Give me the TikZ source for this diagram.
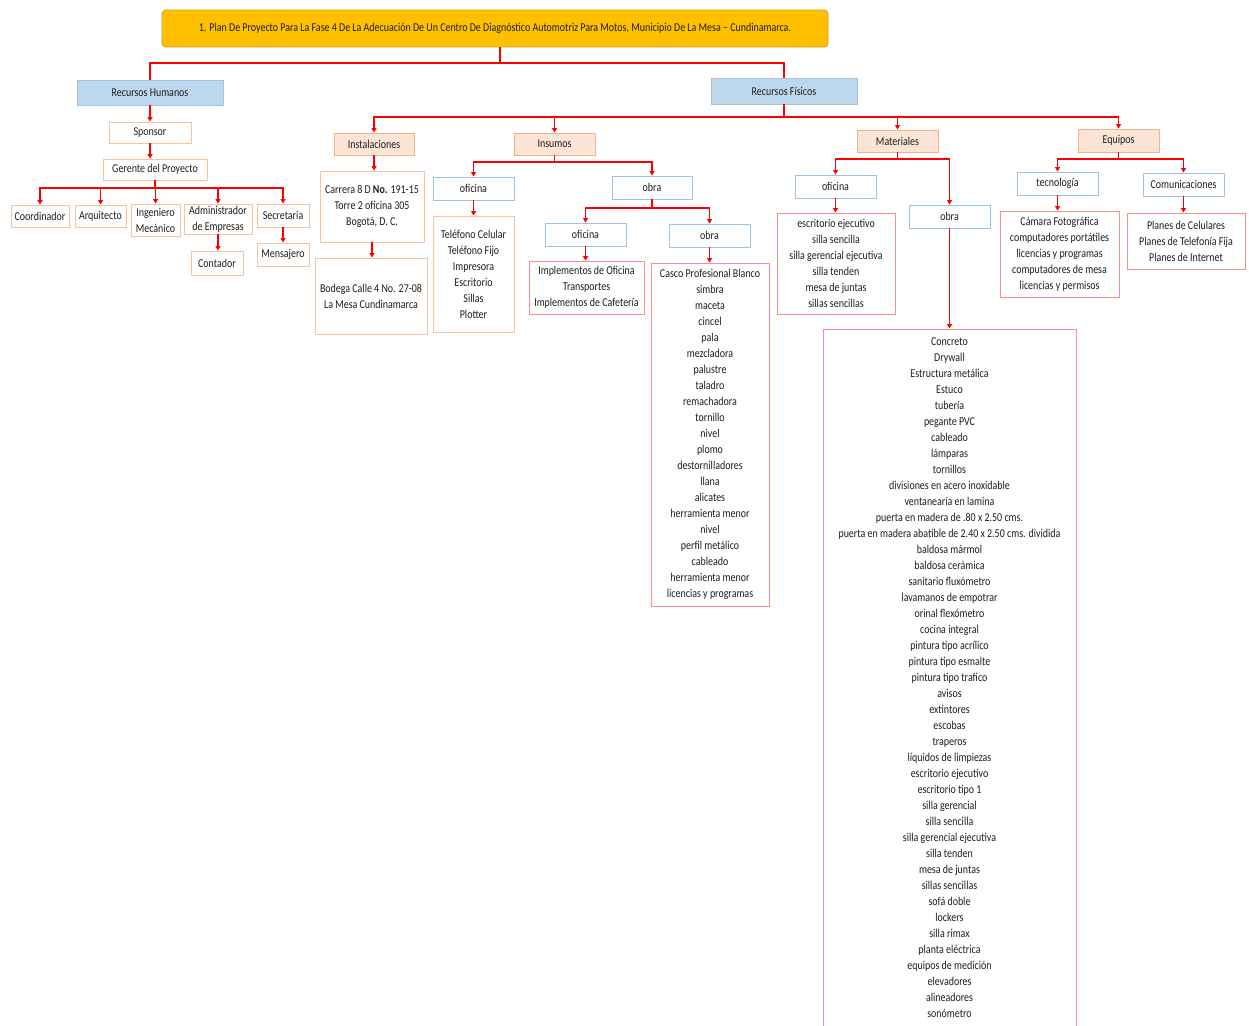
\documentclass[tikz,border=0pt]{standalone}
\usepackage{fontspec}
\setmainfont{Carlito}[FakeStretch=0.83]
\usetikzlibrary{arrows.meta}

\definecolor{conred}{HTML}{FF0000}
\definecolor{gold}{HTML}{FFC000}
\definecolor{golddk}{HTML}{D4A017}
\definecolor{lblue}{HTML}{BDD7EE}
\definecolor{lbluedk}{HTML}{A9C0DA}
\definecolor{peach}{HTML}{FBE5D6}
\definecolor{peachdk}{HTML}{F4B183}
\definecolor{peachln}{HTML}{F6C3A3}
\definecolor{blueln}{HTML}{9DC3E6}
\definecolor{redln}{HTML}{FF8B8B}
\definecolor{txt}{HTML}{1E1E1E}

\tikzset{
  base/.style={draw, line width=0.9pt, inner sep=0pt, align=center, text=txt,
               font=\fontsize{12}{16}\selectfont},
  wh/.style 2 args={minimum width=#1, minimum height=#2},
  titlebox/.style={base, fill=gold, draw=golddk, rounded corners=4pt},
  topbox/.style={base, fill=lblue, draw=lbluedk},
  catbox/.style={base, fill=peach, draw=peachdk},
  pbox/.style={base, fill=white, draw=peachln},
  bbox/.style={base, fill=white, draw=blueln},
  rbox/.style={base, fill=white, draw=redln},
  bar/.style={draw=conred, line width=1.5pt},
  conn/.style={draw=conred, line width=1.5pt, -{Triangle[length=4.5pt,width=5pt]}},
}

\begin{document}
\begin{tikzpicture}[x=1pt,y=-1pt]
\useasboundingbox[fill=white] (0,0) rectangle (1249,1025);

% title and the two main branches
\node[titlebox, wh={666}{37}] (title) at (495,28.5)
  {1. Plan De Proyecto Para La Fase 4 De La Adecuación De Un Centro De Diagnóstico Automotriz Para Motos, Municipio De La Mesa – Cundinamarca.};
\node[topbox, wh={146}{25}] (rh) at (150,92.5) {Recursos Humanos};
\node[topbox, wh={146}{26}] (rf) at (784,91) {Recursos Físicos};

% human resources
\node[pbox, wh={82}{21}] (sp) at (150,132.5) {Sponsor};
\node[pbox, wh={104}{21}] (ger) at (155,169.5) {Gerente del Proyecto};
\node[pbox, wh={58}{22}] (coord) at (40,216) {Coordinador};
\node[pbox, wh={51}{22}] (arq) at (100.5,216) {Arquitecto};
\node[pbox, wh={49}{32}] (ing) at (155.5,220) {Ingeniero\\Mecánico};
\node[pbox, wh={68}{30}] (adm) at (218,219) {Administrador\\de Empresas};
\node[pbox, wh={52}{23}] (sec) at (283,215.5) {Secretaria};
\node[pbox, wh={52}{24}] (cont) at (217,263) {Contador};
\node[pbox, wh={52}{23}] (mens) at (283,254.5) {Mensajero};

% physical resources: categories
\node[catbox, wh={80}{22}] (inst) at (374,144) {Instalaciones};
\node[catbox, wh={81}{22}] (insu) at (554.5,144) {Insumos};
\node[catbox, wh={81}{22}] (mat) at (897.5,141) {Materiales};
\node[catbox, wh={81}{23}] (equ) at (1118.5,140.5) {Equipos};

% facilities
\node[pbox, wh={104}{71}] (dir1) at (372,206.5)
  {Carrera 8 D \textbf{No.} 191-15\\Torre 2 oficina 305\\Bogotá, D. C.};
\node[pbox, wh={112}{76}] (dir2) at (371,296)
  {Bodega Calle 4 No. 27-08\\La Mesa Cundinamarca};

% supplies
\node[bbox, wh={81}{23}] (ofi1) at (473.5,188.5) {oficina};
\node[bbox, wh={80}{23}] (obr1) at (652,187.5) {obra};
\node[pbox, wh={81}{116}] (lst1) at (473.5,274)
  {Teléfono Celular\\Teléfono Fijo\\Impresora\\Escritorio\\Sillas\\Plotter};
\node[bbox, wh={81}{23}] (ofi2) at (585.5,234.5) {oficina};
\node[bbox, wh={81}{23}] (obr2) at (709.5,235.5) {obra};
\node[rbox, wh={115}{53}] (lst2) at (586.5,287.5)
  {Implementos de Oficina\\Transportes\\Implementos de Cafetería};
\node[rbox, wh={118}{343}] (lst3) at (710,434.5)
  {Casco Profesional Blanco\\simbra\\maceta\\cincel\\pala\\mezcladora\\palustre\\taladro\\remachadora\\tornillo\\nivel\\plomo\\destornilladores\\llana\\alicates\\herramienta menor\\nivel\\perfil metálico\\cableado\\herramienta menor\\licencias y programas};

% materials
\node[bbox, wh={81}{23}] (ofi3) at (835.5,186.5) {oficina};
\node[bbox, wh={81}{23}] (obr3) at (949.5,216.5) {obra};
\node[rbox, wh={118}{101}] (lst4) at (836,263.5)
  {escritorio ejecutivo\\silla sencilla\\silla gerencial ejecutiva\\silla tenden\\mesa de juntas\\sillas sencillas};
\node[rbox, wh={253}{698}] (lst5) at (949.5,678)
  {Concreto\\Drywall\\Estructura metálica\\Estuco\\tubería\\pegante PVC\\cableado\\lámparas\\tornillos\\divisiones en acero inoxidable\\ventanearía en lamina\\puerta en madera de .80 x 2.50 cms.\\puerta en madera abatible de 2.40 x 2.50 cms. dividida\\baldosa mármol\\baldosa cerámica\\sanitario fluxómetro\\lavamanos de empotrar\\orinal flexómetro\\cocina integral\\pintura tipo acrílico\\pintura tipo esmalte\\pintura tipo trafico\\avisos\\extintores\\escobas\\traperos\\líquidos de limpiezas\\escritorio ejecutivo\\escritorio tipo 1\\silla gerencial\\silla sencilla\\silla gerencial ejecutiva\\silla tenden\\mesa de juntas\\sillas sencillas\\sofá doble\\lockers\\silla rimax\\planta eléctrica\\equipos de medición\\elevadores\\alineadores\\sonómetro};

% equipment
\node[bbox, wh={81}{23}] (tec) at (1057.5,183.5) {tecnología};
\node[bbox, wh={81}{23}] (com) at (1183.5,184.5) {Comunicaciones};
\node[rbox, wh={119}{86}] (lst6) at (1059.5,254)
  {Cámara Fotográfica\\computadores portátiles\\licencias y programas\\computadores de mesa\\licencias y permisos};
\node[rbox, wh={118}{56}] (lst7) at (1186,241)
  {Planes de Celulares\\Planes de Telefonía Fija\\Planes de Internet};

% connectors
\draw[bar] ([xshift=5pt]title.south) |- (rh.north |- 0,63) -- (rh.north);
\draw[bar] ([xshift=5pt]title.south) |- (rf.north |- 0,63) -- (rf.north);

\draw[conn] (rh.south) -- (sp.north);
\draw[conn] (sp.south) -- (sp.south |- ger.north);
\foreach \c in {coord,arq,ing,adm,sec}
  \draw[conn] (ger.south) |- (\c.north |- 0,188) -- (\c.north);
\draw[conn] (adm.south) -- (adm.south |- cont.north);
\draw[conn] (sec.south) -- (mens.north);

\foreach \c in {inst,insu,mat,equ}
  \draw[conn] (rf.south) |- (\c.north |- 0,117) -- (\c.north);

\draw[conn] (inst.south) -- (inst.south |- dir1.north);
\draw[conn] (dir1.south) -- (dir1.south |- dir2.north);

\foreach \c in {ofi1,obr1}
  \draw[conn] (insu.south) |- (\c.north |- 0,162) -- (\c.north);
\draw[conn] (ofi1.south) -- (ofi1.south |- lst1.north);
\foreach \c in {ofi2,obr2}
  \draw[conn] (obr1.south) |- (\c.north |- 0,208) -- (\c.north);
\draw[conn] (ofi2.south) -- (ofi2.south |- lst2.north);
\draw[conn] (obr2.south) -- (obr2.south |- lst3.north);

\foreach \c in {ofi3,obr3}
  \draw[conn] (mat.south) |- (\c.north |- 0,159) -- (\c.north);
\draw[conn] (ofi3.south) -- (ofi3.south |- lst4.north);
\draw[conn] (obr3.south) -- (obr3.south |- lst5.north);

\foreach \c in {tec,com}
  \draw[conn] (equ.south) |- (\c.north |- 0,159) -- (\c.north);
\draw[conn] (tec.south) -- (tec.south |- lst6.north);
\draw[conn] (com.south) -- (com.south |- lst7.north);
\end{tikzpicture}
\end{document}
